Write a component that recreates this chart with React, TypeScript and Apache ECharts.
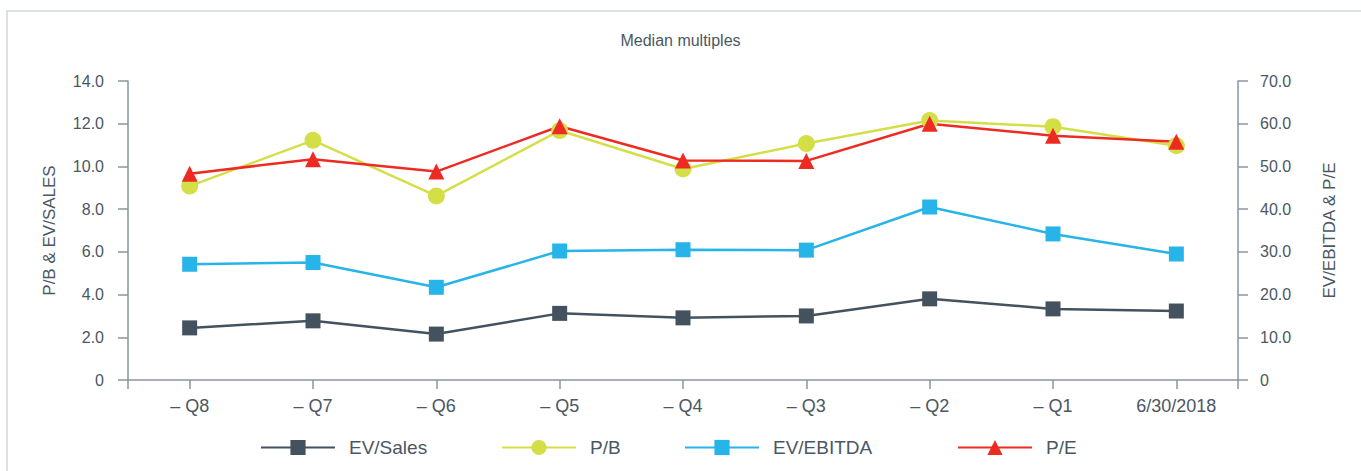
import React, { useEffect, useRef } from "react";
import * as echarts from "echarts";

const categories = ["– Q8", "– Q7", "– Q6", "– Q5", "– Q4", "– Q3", "– Q2", "– Q1", "6/30/2018"];
const evSales = [2.44, 2.77, 2.15, 3.12, 2.91, 3.0, 3.8, 3.33, 3.23];
const pb = [9.08, 11.22, 8.62, 11.68, 9.88, 11.07, 12.15, 11.86, 10.97];
const evEbitda = [27.1, 27.5, 21.7, 30.2, 30.5, 30.4, 40.5, 34.2, 29.5];
const pe = [48.3, 51.7, 48.8, 59.4, 51.4, 51.3, 60.0, 57.2, 55.8];
const leftTicks = { min: 0, max: 14, interval: 2 };
const rightTicks = { min: 0, max: 70, interval: 10 };

const FONT = "'Liberation Sans', Arial, sans-serif";
const TEXT = "#4b5762";
const AXIS = "#8a96a1";

const C_SALES = "#43525e";
const C_PB = "#d4df48";
const C_EBITDA = "#27b4e8";
const C_PE = "#ee2b22";

export default function App() {
  const ref = useRef<HTMLDivElement>(null);
  useEffect(() => {
    if (!ref.current) return;
    const chart = echarts.init(ref.current, null, { renderer: "svg" });
    const fmt = (v: number) => (v === 0 ? "0" : v.toFixed(1));
    const legendCommon = {
      top: 433,
      itemWidth: 74,
      itemHeight: 19,
      textStyle: { fontFamily: FONT, fontSize: 19, color: TEXT, padding: [0, 0, 0, 9] },
    };
    const yAxisCommon = {
      type: "value",
      nameLocation: "middle",
      nameTextStyle: { fontFamily: FONT, fontSize: 17, color: TEXT },
      axisLine: { show: true, lineStyle: { color: AXIS, width: 1.5 } },
      axisTick: { show: true, length: 10, lineStyle: { color: AXIS, width: 1.5 } },
      splitLine: { show: false },
    };
    chart.setOption({
      animation: false,
      backgroundColor: "#ffffff",
      title: {
        text: "Median multiples",
        left: "center",
        top: 27,
        textStyle: { fontFamily: FONT, fontSize: 16, fontWeight: "normal", color: TEXT },
      },
      graphic: [
        {
          type: "rect",
          shape: { x: 7, y: 11, width: 1400, height: 500 },
          style: { fill: "none", stroke: "#d3d8dc", lineWidth: 1.5 },
          silent: true,
        },
      ],
      legend: [
        { ...legendCommon, left: 255, data: ["EV/Sales"] },
        { ...legendCommon, left: 496, data: ["P/B"] },
        { ...legendCommon, left: 679, data: ["EV/EBITDA"] },
        { ...legendCommon, left: 952, data: ["P/E"] },
      ],
      grid: { left: 128, right: 123, top: 81, bottom: 91 },
      xAxis: [
        {
          type: "category",
          data: categories,
          boundaryGap: true,
          axisLine: { show: true, lineStyle: { color: AXIS, width: 1.5 } },
          axisTick: { show: true, alignWithLabel: true, length: 9, lineStyle: { color: AXIS, width: 1.5 } },
          axisLabel: { fontFamily: FONT, fontSize: 18, color: TEXT, margin: 17 },
        },
        {
          type: "value",
          position: "bottom",
          min: 0,
          max: 1,
          interval: 1,
          axisLine: { show: false },
          axisTick: { show: true, length: 9, lineStyle: { color: AXIS, width: 1.5 } },
          axisLabel: { show: false },
          splitLine: { show: false },
        },
      ],
      yAxis: [
        {
          ...yAxisCommon,
          ...leftTicks,
          position: "left",
          name: "P/B & EV/SALES",
          nameGap: 70,
          axisLabel: { fontFamily: FONT, fontSize: 16, color: TEXT, margin: 24, formatter: fmt },
        },
        {
          ...yAxisCommon,
          ...rightTicks,
          position: "right",
          name: "EV/EBITDA & P/E",
          nameGap: 83,
          axisLabel: { fontFamily: FONT, fontSize: 16, color: TEXT, margin: 22, formatter: fmt },
        },
      ],
      series: [
        {
          name: "EV/Sales",
          type: "line",
          yAxisIndex: 0,
          data: evSales,
          symbol: "rect",
          symbolSize: 15,
          color: C_SALES,
          lineStyle: { width: 2.5, color: C_SALES },
          itemStyle: { color: C_SALES },
        },
        {
          name: "P/B",
          type: "line",
          yAxisIndex: 0,
          data: pb,
          symbol: "circle",
          symbolSize: 17,
          color: C_PB,
          lineStyle: { width: 2.5, color: C_PB },
          itemStyle: { color: C_PB },
        },
        {
          name: "EV/EBITDA",
          type: "line",
          yAxisIndex: 1,
          data: evEbitda,
          symbol: "rect",
          symbolSize: 15,
          color: C_EBITDA,
          lineStyle: { width: 2.5, color: C_EBITDA },
          itemStyle: { color: C_EBITDA },
        },
        {
          name: "P/E",
          type: "line",
          yAxisIndex: 1,
          data: pe,
          symbol: "triangle",
          symbolSize: 16,
          color: C_PE,
          lineStyle: { width: 2.5, color: C_PE },
          itemStyle: { color: C_PE },
        },
      ],
    });
    return () => chart.dispose();
  }, []);
  return (
    <div
      ref={ref}
      style={{ position: "absolute", left: 0, top: 0, width: 1361, height: 471 }}
    />
  );
}
